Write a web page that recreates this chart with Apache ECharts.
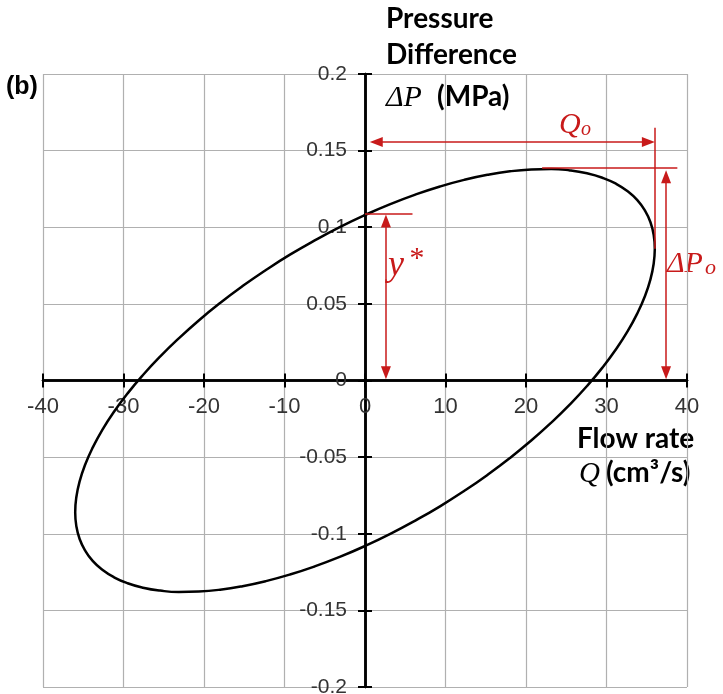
<!DOCTYPE html>
<html>
<head>
<meta charset="utf-8">
<title>Pressure difference vs flow rate</title>
<script src="https://cdn.jsdelivr.net/npm/echarts@6/dist/echarts.min.js"></script>
<style>
    html, body { margin: 0; padding: 0; background: #fff; }
    #chart { width: 723px; height: 694px; }
</style>
</head>
<body>
<div id="chart"></div>
<script>
// flow rate Q (cm3/s) and pressure difference dP (MPa) read along the loop
var loopQ = [36.00, 35.86, 35.45, 34.77, 33.83, 32.63, 31.18, 29.49, 27.58, 25.46, 23.14, 20.65, 18.00,
    15.21, 12.31, 9.32, 6.25, 3.14, 0.00, -3.14, -6.25, -9.32, -12.31, -15.21, -18.00, -20.65, -23.14,
    -25.46, -27.58, -29.49, -31.18, -32.63, -33.83, -34.77, -35.45, -35.86, -36.00,
    -35.86, -35.45, -34.77, -33.83, -32.63, -31.18, -29.49, -27.58, -25.46, -23.14, -20.65, -18.00,
    -15.21, -12.31, -9.32, -6.25, -3.14, 0.00, 3.14, 6.25, 9.32, 12.31, 15.21, 18.00, 20.65, 23.14,
    25.46, 27.58, 29.49, 31.18, 32.63, 33.83, 34.77, 35.45, 35.86, 36.00];
var loopDP = [0.0859, 0.0950, 0.1034, 0.1109, 0.1177, 0.1235, 0.1284, 0.1323, 0.1352, 0.1371, 0.1380, 0.1377, 0.1365,
    0.1342, 0.1309, 0.1266, 0.1213, 0.1151, 0.1080, 0.1001, 0.0914, 0.0821, 0.0721, 0.0616, 0.0506, 0.0392, 0.0275,
    0.0156, 0.0036, -0.0084, -0.0204, -0.0322, -0.0438, -0.0550, -0.0658, -0.0762, -0.0859,
    -0.0950, -0.1034, -0.1109, -0.1177, -0.1235, -0.1284, -0.1323, -0.1352, -0.1371, -0.1380, -0.1377, -0.1365,
    -0.1342, -0.1309, -0.1266, -0.1213, -0.1151, -0.1080, -0.1001, -0.0914, -0.0821, -0.0721, -0.0616, -0.0506, -0.0392, -0.0275,
    -0.0156, -0.0036, 0.0084, 0.0204, 0.0322, 0.0438, 0.0550, 0.0658, 0.0762, 0.0859];

// red construction lines (start, end) in data units
var qoArrow = [[1.4, 0.1557], [35.2, 0.1557]];
var qoMark = [[36.0, 0.165], [36.0, 0.086]];
var dpoTop = [[22.0, 0.1385], [38.8, 0.1385]];
var dpoArrow = [[37.4, 0.133], [37.4, 0.005]];
var yStarTop = [[0.0, 0.1087], [5.9, 0.1087]];
var yStarArrow = [[2.6, 0.104], [2.6, 0.005]];

var red = '#c81a1a';
var tickFont = 'Liberation Sans';
var boldFont = 'Lato';
var mathFont = 'Liberation Serif';

// plot box in pixels; axes are shifted from the box edges to the zero lines
var gridL = 43, gridR = 36, gridT = 74, gridB = 7;
var W = 723, H = 694;
var xShift = -((H - gridB) - (gridT + H - gridB) / 2);   // bottom edge -> y = 0
var yShift = -((gridL + W - gridR) / 2 - gridL);         // left edge -> x = 0

function redLine(pair, arrowStart, arrowEnd) {
    return [
        { coord: pair[0], symbol: arrowStart ? 'triangle' : 'none', symbolSize: [10, 13] },
        { coord: pair[1], symbol: arrowEnd ? 'triangle' : 'none', symbolSize: [10, 13] }
    ];
}

function txt(x, y, s, size, family, weight, style, color) {
    return {
        type: 'text', left: x, top: y, silent: true,
        style: {
            text: s, fontSize: size, fontFamily: family,
            fontWeight: weight || 'normal', fontStyle: style || 'normal',
            fill: color || '#000'
        }
    };
}

var chart = echarts.init(document.getElementById('chart'));

var baseX = {
    type: 'value', min: -40, max: 40, interval: 10, offset: xShift,
    axisLine: { onZero: false, lineStyle: { color: '#000', width: 2.5 } },
    axisTick: { length: 7, lineStyle: { color: '#000', width: 2 } }
};
var baseY = {
    type: 'value', min: -0.2, max: 0.2, interval: 0.05, offset: yShift,
    axisLine: { onZero: false, lineStyle: { color: '#000', width: 2.5 } },
    axisTick: { length: 7, lineStyle: { color: '#000', width: 2 } }
};

var option = {
    animation: false,
    backgroundColor: '#fff',
    grid: {
        left: gridL, right: gridR, top: gridT, bottom: gridB,
        containLabel: false, outerBoundsMode: 'none'
    },
    xAxis: [
        Object.assign({}, baseX, {
            position: 'bottom',
            axisLabel: { color: '#333', fontSize: 22, fontFamily: tickFont, margin: 15 },
            splitLine: { show: true, lineStyle: { color: '#b0b0b0', width: 1.2 } }
        }),
        Object.assign({}, baseX, {
            position: 'top',
            axisLabel: { show: false },
            splitLine: { show: false }
        })
    ],
    yAxis: [
        Object.assign({}, baseY, {
            position: 'left',
            axisLabel: { color: '#333', fontSize: 21, fontFamily: tickFont, margin: 18 },
            splitLine: { show: true, lineStyle: { color: '#b0b0b0', width: 1.2 } }
        }),
        Object.assign({}, baseY, {
            position: 'right',
            axisLabel: { show: false },
            splitLine: { show: false }
        })
    ],
    series: [
        {
            name: 'loop',
            type: 'line',
            data: loopQ.map(function (q, i) { return [q, loopDP[i]]; }),
            smooth: 0.5,
            showSymbol: false,
            silent: true,
            z: 3,
            lineStyle: { color: '#000', width: 2.5 },
            markLine: {
                silent: true,
                animation: false,
                label: { show: false },
                lineStyle: { color: red, width: 1.5, type: 'solid' },
                itemStyle: { color: red },
                data: [
                    redLine(qoArrow, true, true),
                    redLine(qoMark, false, false),
                    redLine(dpoTop, false, false),
                    redLine(dpoArrow, true, true),
                    redLine(yStarTop, false, false),
                    redLine(yStarArrow, true, true)
                ]
            }
        }
    ],
    graphic: [
        txt(6, 75, '(b)', 25, tickFont, 'bold'),
        txt(386, 5, 'Pressure', 28, boldFont, 'bold'),
        txt(386, 41, 'Difference', 28, boldFont, 'bold'),
        txt(386, 83, 'ΔP', 30, mathFont, 'normal', 'italic'),
        txt(437, 83, '(MPa)', 28, boldFont, 'bold'),
        txt(577, 425, 'Flow rate', 28, boldFont, 'bold'),
        txt(579, 460, 'Q', 29, mathFont, 'normal', 'italic'),
        txt(606, 459, '(cm³/s)', 28, boldFont, 'bold'),
        txt(559, 110, 'Q', 30, mathFont, 'normal', 'italic', red),
        txt(581, 120, 'o', 20, mathFont, 'normal', 'italic', red),
        txt(388, 248, 'y', 36, mathFont, 'normal', 'italic', red),
        txt(408, 244, '*', 30, mathFont, 'normal', 'italic', red),
        txt(667, 249, 'ΔP', 30, mathFont, 'normal', 'italic', red),
        txt(705, 257, 'o', 22, mathFont, 'normal', 'italic', red)
    ]
};

chart.setOption(option);
window.onresize = function () {
    chart.resize();
};
</script>
</body>
</html>
